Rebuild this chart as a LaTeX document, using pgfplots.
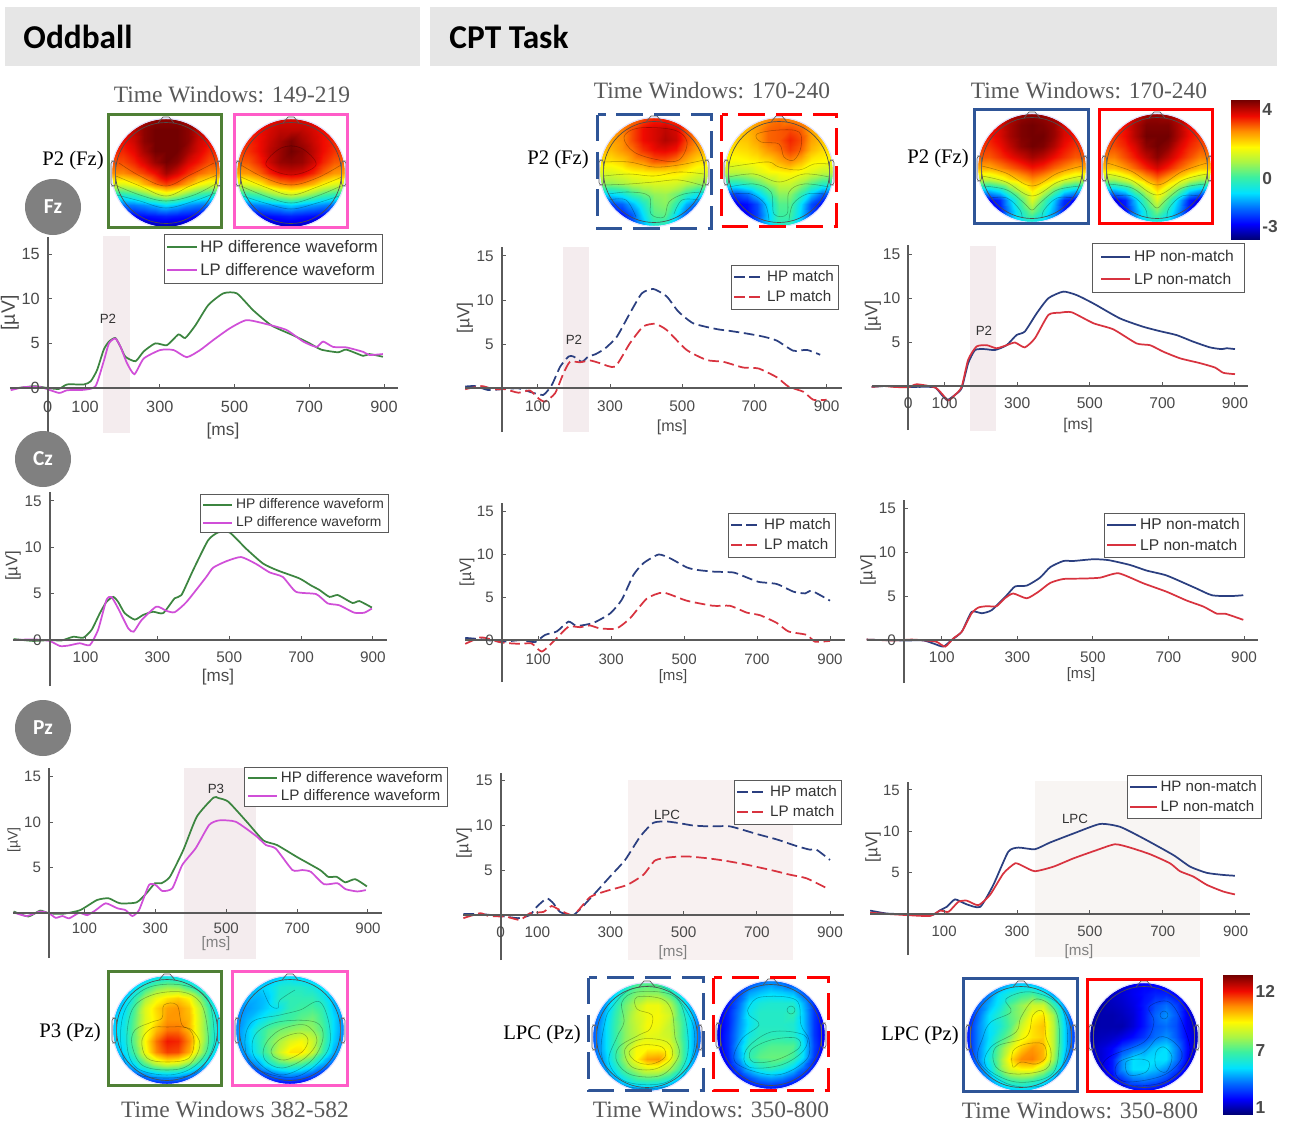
\documentclass[border=0pt]{standalone}
\usepackage{fontspec}
\usepackage{pgfplots}
\pgfplotsset{compat=1.18}
\setmainfont{Liberation Sans}
\newfontfamily\serif{Liberation Serif}
\newfontfamily\carl{Carlito}
\newcommand\fs[1]{\fontsize{#1}{#1}\selectfont}
\definecolor{hdr}{HTML}{E6E6E6}
\definecolor{tickc}{HTML}{4A4A4A}
\definecolor{axc}{HTML}{5A5A5A}
\definecolor{shd}{HTML}{F4ECEE}
\definecolor{shdc}{HTML}{F8F1F1}
\definecolor{shdb}{HTML}{F8F5F3}
\definecolor{cgr}{HTML}{3C8540}
\definecolor{cmg}{HTML}{D04FD8}
\definecolor{cbl}{HTML}{2B3F80}
\definecolor{crd}{HTML}{D8333F}
\definecolor{fgr}{HTML}{4F8035}
\definecolor{fpk}{HTML}{FF5CC8}
\definecolor{fbl}{HTML}{2F5597}
\definecolor{frd}{HTML}{FF0000}
\def\lgxs{1.5}
\def\tf{12.2}
\pgfplotsset{
 colormap={topo}{rgb255(0)=(0,0,120) rgb255(1)=(0,0,255) rgb255(2)=(0,110,255) rgb255(3)=(0,225,255)
  rgb255(4)=(60,240,160) rgb255(5)=(170,245,70) rgb255(6)=(255,250,0) rgb255(7)=(255,140,0) rgb255(8)=(240,10,0) rgb255(9)=(115,0,0)},
 panel/.style={
  scale only axis, width=\pW pt, height=\pH pt, at={(\pX pt,\pY pt)}, anchor=south west,
  xmin=\xmn, xmax=\xmx, ymin=\ymn, ymax=\ymx, clip=false,
  axis x line=center, axis y line=center,
  axis line style={-, color=axc, line width=1.5pt},
  tick style={color=axc, line width=.75pt}, tick align=inside, major tick length=3pt,
  hide obscured x ticks=false, hide obscured y ticks=false,
  /pgf/number format/assume math mode=true,
  every tick label/.append style={font=\fs{\tf}, text=tickc},
  xticklabel style={yshift=-3.5pt}, yticklabel style={xshift=-2.5pt},
  axis on top=true,
  legend style={at={(\lgx,\lgy)}, anchor=north east, draw=axc, line width=.75pt, font=\fs{\lgf}, text=black!80,
    inner xsep=\lgxs pt, inner ysep=\lgs pt, row sep=\lgr pt, cells={anchor=west}, fill=white},
  legend cell align=left,
  legend image code/.code={\draw[##1,line width=1.5pt](0pt,0pt)--(\lgl pt,0pt);},
 },
 hp/.style={color=cbl, line width=1.3pt, smooth, tension=.35, no marks},
 lp/.style={color=crd, line width=1.3pt, smooth, tension=.35, no marks},
 hg/.style={color=cgr, line width=1.3pt, smooth, tension=.35, no marks},
 lg/.style={color=cmg, line width=1.3pt, smooth, tension=.35, no marks},
 dsh/.style={dash pattern=on 8pt off 3.5pt},
 shade/.style={fill=#1, draw=none, forget plot, no marks},
}
% x0 px, px per ms, y0 px, px per uV, left, right, top, bottom
\newcommand\setpanel[8]{%
 \pgfmathsetmacro\pL{#5}\pgfmathsetmacro\pR{#6}\pgfmathsetmacro\pT{#7}\pgfmathsetmacro\pB{#8}%
 \pgfmathsetmacro\xmn{(#5-#1)/#2}\pgfmathsetmacro\xmx{(#6-#1)/#2}%
 \pgfmathsetmacro\ymn{(#3-#8)/#4}\pgfmathsetmacro\ymx{(#3-#7)/#4}%
 \pgfmathsetmacro\pW{(#6-#5)*.75}\pgfmathsetmacro\pH{(#8-#7)*.75}%
 \pgfmathsetmacro\pX{#5*.75}\pgfmathsetmacro\pY{-#8*.75}%
}
% legend right px, top px, font pt, ysep, rowsep, line length pt
\newcommand\setlegend[6]{%
 \pgfmathsetmacro\lgx{(#1-\pL)/(\pR-\pL)}\pgfmathsetmacro\lgy{(\pB-#2)/(\pB-\pT)}%
 \def\lgf{#3}\def\lgs{#4}\def\lgr{#5}\def\lgl{#6}%
}
\newcount\tpn
% cx, cy, values row by row from the top (11 x 11), scale 0-9 of the colour bar, contour lines
\newcommand\topomap[4]{%
 \gdef\tcoords{}\global\tpn=0
 \foreach \v in {#3}{%
  \pgfmathtruncatemacro\ci{mod(\tpn,11)}\pgfmathtruncatemacro\cj{10-floor(\tpn/11)}%
  \xdef\tcoords{\tcoords (\ci,\cj)[\v]}\global\advance\tpn by 1
 }%
 \pgfmathsetmacro\tX{(#1-54)*.75}\pgfmathsetmacro\tY{-(#2+54)*.75}%
 \begin{axis}[scale only axis, width=81pt, height=81pt, at={(\tX pt,\tY pt)}, anchor=south west,
   xmin=0,xmax=10,ymin=0,ymax=10, hide axis, colormap name=topo, point meta min=0, point meta max=9]
  \edef\tmp{\noexpand\addplot[surf,shader=interp,mesh/cols=11,point meta=explicit] coordinates {\tcoords};}\tmp
 \end{axis}
 \begin{scope}[x=.75pt,y=-.75pt]
  \begin{scope}[shift={(#1,#2)},draw=black,draw opacity=.3,line width=.4pt]
   #4
  \end{scope}
  \fill[white,even odd rule] (#1-55,#2-55) rectangle (#1+55,#2+55) (#1,#2) circle (54);
  \draw[blue!12,line width=.7pt] (#1,#2) circle (54.5);
  \draw[black!70,line width=.5pt] (#1,#2) circle (50.5);
  \draw[black!65,line width=.5pt] (#1-8,#2-50) -- (#1-3,#2-56) -- (#1+3,#2-56) -- (#1+8,#2-50);
  \draw[black!60,line width=.5pt,rounded corners=2pt] (#1-50.5,#2-12) rectangle (#1-55,#2+13);
  \draw[black!60,line width=.5pt,rounded corners=2pt] (#1+50.5,#2-12) rectangle (#1+55,#2+13);
 \end{scope}
}
\newcommand\co[1]{\draw plot[smooth,tension=.6] coordinates {#1};}
\newcommand\cc[1]{\draw plot[smooth cycle,tension=.6] coordinates {#1};}
\begin{document}
\begin{tikzpicture}
\begin{scope}[x=.75pt,y=-.75pt]
 \useasboundingbox (0,0) rectangle (1290,1122);
 \fill[white] (0,0) rectangle (1290,1122);
 \fill[hdr] (5,7) rectangle (420,66);
 \fill[hdr] (430,7) rectangle (1277,66);
 \node[font=\carl\bfseries\fs{25}] at (78,37) {Oddball};
 \node[font=\carl\bfseries\fs{25}] at (509,37) {CPT Task};
 \foreach \x/\y/\t in {232/95/Time Windows: 149-219, 712/91/Time Windows: 170-240, 1089/91/Time Windows: 170-240,
   235/1110/Time Windows 382-582, 711/1110/Time Windows: 350-800, 1080/1111/Time Windows: 350-800}
  \node[font=\serif\fs{17.6},text=black!65] at (\x,\y) {\t};
 \foreach \x/\y/\t in {73/161/P2 (Fz), 558/160/P2 (Fz), 938/159/P2 (Fz), 70/1033/P3 (Pz), 542/1035/LPC (Pz), 920/1036/LPC (Pz)}
  \node[font=\serif\fs{15.5}] at (\x,\y) {\t};
\end{scope}

% ---------- topographic maps
\topomap{166}{173}{
8.5,8.5,8.5,8.6,8.8,8.8,8.8,8.6,8.5,8.5,8.5,
8.2,8.2,8.4,8.8,9,9,9,8.8,8.4,8.2,8.2,
8,8,8.3,8.8,9,9,9,8.8,8.3,8,8,
7.8,7.8,8.1,8.6,9,9,9,8.6,8.2,7.8,7.8,
7.5,7.5,7.8,8.2,8.7,9,8.8,8.2,7.9,7.5,7.5,
7,7,7.3,7.6,8,8.6,8.2,7.7,7.3,7,7,
5.6,5.6,6,6.6,7.2,7.6,7.3,6.7,6,5.6,5.6,
3.5,3.5,3.8,4.3,5,5.5,5,4.3,3.8,3.5,3.5,
2,2,2.1,2.3,2.6,3,2.7,2.3,2.1,2,2,
1,1,1,1.1,1.2,1.3,1.2,1.1,1,1,1,
.3,.3,.3,.3,.4,.4,.4,.3,.3,.3,.3}{
\co{(-47,-10)(-26,3)(0,13)(24,2)(48,-10)}
\co{(-50,3)(-26,13)(0,23)(24,13)(51,2)}
\co{(-51,12)(-26,22)(0,28)(28,22)(51,10)}
\co{(-49,22)(-26,28)(0,35)(28,28)(49,20)}}
\topomap{291}{173}{
8,8,8,8.1,8.2,8.2,8.2,8.1,8,8,8,
7.9,7.9,8,8.2,8.4,8.4,8.4,8.2,8,7.9,7.9,
7.8,7.8,8,8.3,8.6,8.9,8.6,8.3,8,7.8,7.8,
7.6,7.7,8,8.4,8.7,9,8.8,8.4,8,7.7,7.6,
7.3,7.4,7.8,8.3,8.7,8.8,8.7,8.3,7.8,7.4,7.3,
6.8,6.9,7.3,7.8,8.2,8.3,8.2,7.8,7.3,6.9,6.8,
5.4,5.6,6,6.6,7,7.2,7,6.6,6,5.6,5.4,
3.5,3.7,4,4.5,5,5.3,5,4.5,4,3.7,3.5,
2,2,2.2,2.4,2.6,2.9,2.6,2.4,2.2,2,2,
1,1,1,1.1,1.2,1.3,1.2,1.1,1,1,1,
.4,.4,.4,.4,.5,.5,.5,.4,.4,.4,.4}{
\co{(-50,-8)(-26,5)(0,12)(26,5)(50,-8)}
\co{(-50,4)(-26,14)(0,22)(26,14)(51,4)}
\co{(-50,13)(-26,23)(0,30)(26,23)(50,13)}
\co{(-48,23)(-26,30)(0,36)(26,30)(48,23)}
\cc{(-25,-8)(0,2)(25,-8)(10,-25)(-10,-25)}}
\topomap{654}{172}{
7,7,7,7.2,7.5,7.8,7.8,7.5,7.2,7,7,
6.9,6.9,7.1,7.5,8,8.2,8.4,8.2,7.5,7,6.9,
6.8,6.8,7,7.5,8,8.2,8.5,8.3,7.6,7,6.8,
6.6,6.6,6.9,7.2,7.7,8,8.1,7.9,7.3,6.8,6.6,
6.2,6.2,6.4,6.8,7,7.4,7.4,7.1,6.7,6.3,6.2,
5.6,5.6,5.8,6,6.1,6.2,6.2,6.2,6,5.7,5.6,
4.8,4.8,5,5.3,5.5,5.6,5.6,5.5,5.2,4.9,4.8,
3,3,3.3,3.9,4.4,4.8,4.9,4.5,3.8,3.2,3,
1.6,1.6,1.9,2.6,3.5,4.5,4.7,3.8,2.6,1.9,1.6,
1,1,1.2,1.8,3,4.2,4.3,3,1.8,1.2,1,
.8,.8,1,1.5,2.5,3.5,3.5,2.5,1.5,1,.8}{
\cc{(-30,-35)(-20,-20)(5,-12)(25,-12)(33,-30)(20,-42)(-15,-44)}
\co{(-50,-10)(-25,-10)(0,-5)(25,-7)(50,-12)}
\co{(-50,4)(-25,2)(0,4)(25,0)(50,2)}
\co{(-50,13)(-25,12)(0,10)(25,8)(50,14)}
\co{(-45,22)(-25,20)(-5,24)(-3,42)(10,45)(15,30)(30,22)(50,20)}
\co{(-45,28)(-28,28)(-18,45)}
\co{(45,28)(28,28)(20,42)}}
\topomap{779}{172}{
6.6,6.6,6.7,6.8,7,7.2,7,6.9,6.7,6.6,6.6,
6.5,6.5,6.6,6.9,7.3,7.4,7.5,7.3,6.8,6.5,6.5,
6.4,6.4,6.5,6.8,7.3,7.4,7.8,7.5,6.8,6.5,6.4,
6.2,6.2,6.3,6.5,6.9,7.2,7.6,7.3,6.6,6.3,6.2,
5.9,5.9,6,6.1,6.3,6.7,7,6.6,6.1,6,5.9,
5.2,5.2,5.3,5.6,5.9,6,6.1,5.9,5.6,5.3,5.2,
3.6,3.6,3.9,4.3,4.9,5.4,5.4,4.9,4.3,3.8,3.6,
1.6,1.6,2,2.8,3.8,4.7,4.7,3.8,2.8,1.9,1.6,
.9,.9,1.1,1.7,3,4.2,4.2,3,1.7,1.1,.9,
.9,.9,1,1.6,2.8,4,4,2.8,1.6,1,.9,
1.2,1.2,1.4,1.9,2.8,3.6,3.6,2.8,1.9,1.4,1.2}{
\cc{(-22,-38)(-18,-30)(0,-28)(5,-15)(15,-12)(22,-25)(20,-40)(0,-42)}
\co{(-50,-5)(-30,-8)(-10,-10)(0,-5)(20,-2)(35,-8)(50,-8)}
\co{(-50,5)(-25,2)(0,10)(25,2)(50,5)}
\co{(-50,15)(-25,12)(-8,20)(-5,42)(8,42)(10,20)(25,12)(50,15)}
\co{(-45,22)(-28,22)(-14,32)(-10,48)}
\co{(45,22)(28,22)(14,32)(10,48)}}
\topomap{1032}{168}{
8.2,8.2,8.3,8.5,8.7,8.8,8.7,8.5,8.3,8.2,8.2,
8,8,8.2,8.6,8.9,9,8.9,8.7,8.2,8,8,
7.9,7.9,8.2,8.6,8.9,9,9,8.7,8.2,7.9,7.9,
7.7,7.7,8,8.4,8.8,9,8.9,8.5,8,7.7,7.7,
7.4,7.4,7.7,8,8.3,8.6,8.4,8,7.7,7.4,7.4,
6.7,6.7,7,7.3,7.6,7.9,7.7,7.3,7,6.7,6.7,
5.3,5.3,5.7,6.2,6.6,7,6.7,6.2,5.7,5.3,5.3,
2.8,2.8,3.3,4.4,5.4,6.2,5.5,4.4,3.3,2.8,2.8,
1,1,1.4,2.8,4.2,5.6,4.2,2.8,1.4,1,1,
.8,.8,1.2,2.4,3.6,4.6,3.6,2.4,1.2,.8,.8,
1.5,1.5,1.8,2.4,3,3.3,3,2.4,1.8,1.5,1.5}{
\co{(-50,-2)(-26,5)(0,18)(26,5)(50,-2)}
\co{(-50,8)(-26,14)(0,28)(26,14)(50,8)}
\co{(-49,18)(-25,22)(-8,35)(0,42)(8,35)(25,22)(49,18)}
\co{(-42,30)(-25,30)(-12,42)(-10,50)}
\co{(42,30)(25,30)(12,42)(10,50)}}
\topomap{1157}{168}{
8,8,8.1,8.3,8.6,8.7,8.6,8.3,8.1,8,8,
7.8,7.8,8,8.5,8.9,8.9,8.9,8.5,8,7.8,7.8,
7.7,7.7,8,8.5,9,9,9,8.5,8,7.7,7.7,
7.5,7.5,7.8,8.2,8.8,9,8.8,8.2,7.8,7.5,7.5,
7.1,7.1,7.5,7.9,8.4,8.8,8.4,7.9,7.5,7.1,7.1,
6.5,6.5,6.9,7.3,7.8,8.2,7.8,7.3,6.9,6.5,6.5,
5,5,5.5,6.1,6.7,7.2,6.7,6.1,5.5,5,5,
2.6,2.6,3.1,4.3,5.4,6.3,5.4,4.3,3.1,2.6,2.6,
.8,.8,1.3,2.7,4.2,5.6,4.2,2.7,1.3,.8,.8,
.7,.7,1.1,2.3,3.5,4.5,3.5,2.3,1.1,.7,.7,
1.5,1.5,1.8,2.4,3,3.3,3,2.4,1.8,1.5,1.5}{
\co{(-50,-5)(-26,3)(0,17)(26,3)(50,-5)}
\co{(-50,6)(-26,12)(0,27)(26,12)(50,6)}
\co{(-49,16)(-25,20)(-8,33)(0,40)(8,33)(25,20)(49,16)}
\co{(-42,28)(-25,28)(-12,40)(-10,50)}
\co{(42,28)(25,28)(12,40)(10,50)}}
\topomap{167}{1030}{
2,2,2,2.5,3,3.2,3,2.5,2,2,2,
2,2.5,3,3.8,4.5,4.8,4.7,4,3.2,2.5,2,
2,2.8,3.8,5,5.8,6.2,6.4,6,4.8,3.2,2.4,
2.5,3,4.2,5.6,6.3,6.8,6.9,6.5,5.4,3.8,2.5,
2.8,3.2,4.4,5.6,6.2,6.9,6.9,6.6,5.5,4,2.8,
2.8,3.3,4.5,5.8,6.6,7.2,7.2,6.6,5.5,4,2.8,
2.8,3.2,4.5,6,7.2,7.9,7.8,7,5.6,3.9,2.8,
2.5,3,4.2,5.8,7,7.6,7.5,6.7,5.2,3.6,2.5,
2,2.4,3.3,4.5,5.5,6,5.8,5,3.9,2.7,2,
1,1.5,2,2.5,3,3.2,3.1,2.6,2,1.5,1,
.4,.6,.8,1,1.1,1.2,1.1,1,.8,.6,.4}{
\cc{(-25,10)(-15,-2)(0,-3)(20,-2)(27,10)(22,28)(0,32)(-20,28)}
\cc{(-32,0)(-15,-8)(-5,-12)(-3,-25)(10,-25)(15,-5)(25,0)(33,15)(22,35)(0,40)(-25,35)(-35,15)}
\cc{(-35,-20)(-15,-35)(15,-38)(33,-28)(40,-5)(40,20)(25,38)(0,45)(-30,38)(-40,15)}
\cc{(-42,-20)(-20,-42)(15,-45)(40,-32)(47,0)(45,20)(30,42)(0,48)(-35,42)(-46,15)}}
\topomap{290}{1030}{
2,2,2.2,2.5,2.8,3,2.8,2.5,2.2,2,2,
2,2.4,2.8,3,3.5,3.6,3.6,3.4,3,2.4,2,
2,2.6,2.6,2.8,3.6,3.8,3.8,3.8,3.4,2.6,2,
2.2,2.4,2.6,2.9,3.2,3.8,4,4.1,3.8,2.8,2.2,
2.2,2.6,3,3.4,3.8,4,4.3,4.5,4,3,2.2,
2.2,2.8,3.6,4.2,4.5,4.7,4.9,4.8,4.2,3,2.2,
2.2,2.8,3.6,4.4,5,5.6,5.9,5.4,4.3,2.9,2.2,
2,2.6,3.5,4.3,5.4,6.2,6.2,5.4,4,2.6,2,
1.4,2,2.6,3.5,4.3,4.6,4.4,3.8,2.8,2,1.4,
.8,1.2,1.6,2,2.4,2.6,2.4,2,1.5,1.2,.8,
.3,.5,.7,.8,.9,1,.9,.8,.7,.5,.3}{
\cc{(-18,18)(-8,8)(10,3)(18,10)(12,22)(-5,30)(-17,26)}
\cc{(-25,15)(-10,0)(15,-5)(27,10)(15,28)(-8,38)(-25,30)}
\cc{(-35,5)(-12,-8)(25,-8)(33,8)(20,32)(-10,45)(-35,28)}
\cc{(-38,-8)(-10,-15)(10,-20)(30,-28)(40,0)(35,25)(5,47)(-35,38)(-45,15)}
\co{(-27,-40)(-20,-25)(-12,-22)(-10,-30)(5,-40)}}
\topomap{647}{1037}{
1.6,1.6,2,3,4,4.2,4,3,2,1.6,1.6,
1.6,2,3,4,4.6,4.8,4.8,4.2,3.2,2,1.6,
1.6,2.4,3.6,4.5,5.2,5.8,5.8,5.2,4,2.6,1.6,
1.8,2.6,3.8,4.6,5.4,5.8,5.9,5.5,4.2,3,1.8,
1.8,2.8,3.9,4.7,5.3,5.9,5.8,5.3,4.4,3,1.8,
1.8,2.8,3.9,4.7,5.2,5.7,5.6,5.4,4.4,3,1.8,
1.8,2.8,3.9,4.9,5.9,6,6,5.8,4.6,3,1.8,
1.8,2.6,3.8,4.9,6,6.8,6.9,6,4.6,2.9,1.8,
1.5,2.3,3.3,4.3,5,5.6,5.6,5,4,2.6,1.5,
1.2,1.7,2.4,3.2,3.8,4,3.9,3.4,2.6,1.7,1.2,
.8,1,1.4,1.8,2,2.2,2,1.8,1.4,1,.8}{
\cc{(-18,15)(-5,8)(15,10)(18,20)(5,27)(-10,25)}
\cc{(-22,12)(-5,2)(20,5)(25,20)(8,32)(-15,30)}
\cc{(-28,10)(-8,-2)(3,-8)(5,-22)(-10,-28)(-10,-40)(15,-38)(25,-25)(28,0)(32,18)(15,38)(-15,38)(-30,25)}
\cc{(-25,-35)(-10,-45)(25,-42)(38,-20)(40,20)(20,45)(-20,45)(-38,25)(-30,0)(-23,-15)}
\cc{(-35,-30)(-15,-48)(20,-48)(45,-15)(45,20)(25,48)(-25,48)(-45,20)(-42,-15)}}
\topomap{771}{1035}{
.6,.7,1,1.4,1.9,2.2,1.9,1.4,1,.7,.6,
.7,1,1.6,2.4,2.7,2.9,2.8,2.6,1.8,1,.7,
.8,1.2,2,3,3.4,3.5,3.5,3.5,2.6,1.4,.8,
.8,1.3,2.2,3.2,3.6,3.6,3.6,3.8,2.8,1.5,.8,
.8,1.3,2.3,3.1,3.6,3.6,3.6,3.5,2.8,1.5,.8,
.8,1.4,2.4,3.3,3.7,3.7,3.7,3.6,2.9,1.5,.8,
.8,1.4,2.6,3.7,4,4.2,4.2,4.2,3.1,1.6,.8,
.7,1.3,2.5,3.8,4.3,4.4,4.4,4,3,1.5,.7,
.6,1,1.9,2.9,3.6,3.9,3.6,3,2.1,1.2,.6,
.4,.7,1.1,1.7,2.2,2.4,2.2,1.7,1.2,.8,.4,
.2,.3,.5,.8,1,1.1,1,.8,.5,.3,.2}{
\draw (20,-25) circle (4);
\cc{(-20,15)(0,5)(25,3)(28,13)(5,25)(-18,27)}
\cc{(-25,15)(0,-3)(33,0)(33,15)(10,30)(-22,32)}
\cc{(-22,-28)(-10,-38)(25,-35)(30,-10)(38,5)(35,25)(5,40)(-35,28)(-30,5)(-12,-10)(-22,-20)}}
\topomap{1021}{1037}{
1.2,1.2,1.5,2,2.6,2.8,2.6,2,1.5,1.2,1.2,
1.2,1.6,2.2,3,3.5,3.9,4.1,3.5,2.4,1.6,1.2,
1.2,1.9,2.6,3.2,4.2,4.8,5.4,5.4,4,2.3,1.2,
1.2,2,3,3.6,4.3,4.8,5.9,6.2,5,2.8,1.2,
1.2,2.2,3,3.4,4.2,5.4,6.2,6.5,5.2,3,1.4,
1.2,2.2,3,3.8,4.6,5.8,6.2,6.4,5.2,3,1.4,
1.2,2.2,3.2,4.4,5.6,6.4,6.9,6.6,5.2,3,1.4,
1.2,2.2,3.4,4.6,6.2,7,7.1,6.6,5,2.7,1.2,
1.1,1.9,3,4.4,5.6,6,6,5.2,4,2.2,1.1,
1,1.4,2.3,3.2,4,4.2,4,3.4,2.4,1.6,1,
.8,1,1.6,2.2,2.6,2.8,2.6,2.2,1.6,1,.8}{
\cc{(-8,14)(5,7)(22,7)(25,20)(15,27)(0,25)(-8,30)}
\cc{(12,-22)(22,-25)(25,0)(30,15)(25,32)(-5,37)(-25,30)(-25,10)(5,0)}
\cc{(-30,10)(-5,-5)(0,-20)(15,-38)(35,-25)(38,10)(30,38)(-5,45)(-35,30)}
\cc{(-30,-15)(-10,-25)(-15,-38)(10,-45)(40,-30)(46,10)(30,45)(-10,48)(-42,25)(-38,0)}}
\topomap{1144}{1037}{
.5,.5,.6,.7,.9,1,1,.9,.7,.6,.5,
.5,.5,.6,.7,.9,1.1,1.3,1.3,1,.7,.5,
.4,.4,.5,.6,.8,1.2,1.7,2,1.6,.8,.5,
.3,.4,.4,.5,.7,1.2,1.9,2.3,1.8,.9,.5,
.3,.4,.4,.4,.7,1.2,1.8,2,1.7,.9,.5,
.4,.5,.6,.8,1.1,1.5,2,2.3,1.8,1,.5,
.5,.7,1,1.6,2,2.3,2.8,3,2.2,1.1,.5,
.5,.7,1.2,2.3,3,2.9,3,3,2.1,1,.5,
.5,.7,1.2,2.3,3,3,2.7,2.3,1.6,.9,.5,
.4,.6,.9,1.4,2,2.1,1.9,1.5,1,.7,.4,
.3,.4,.5,.7,.9,1,.9,.7,.5,.4,.3}{
\draw (20,-22) circle (4);
\cc{(-18,25)(-5,22)(5,25)(2,35)(-15,38)}
\cc{(12,15)(20,10)(28,20)(22,35)(12,30)}
\cc{(-25,25)(0,15)(15,0)(30,5)(38,20)(20,38)(-15,45)(-28,38)}
\cc{(-35,20)(0,5)(10,-15)(5,-30)(25,-35)(40,-10)(45,20)(20,45)(-25,48)(-42,35)}}

\begin{scope}[x=.75pt,y=-.75pt,line width=2.5pt]
 \draw[fgr] (108.5,114.5) rectangle (221.5,227.5);
 \draw[fpk] (234.5,114.5) rectangle (347.5,227.5);
 \draw[fgr] (108.5,971.5) rectangle (221.5,1085.5);
 \draw[fpk] (232.5,971.5) rectangle (347.5,1085.5);
 \draw[fbl,dash pattern=on 20pt off 8pt] (597.5,114.5) rectangle (711.5,228.5);
 \draw[frd,dash pattern=on 20pt off 8pt] (721.5,114.5) rectangle (836.5,226.5);
 \draw[fbl] (974.5,109.5) rectangle (1088.5,223.5);
 \draw[frd] (1099.5,109.5) rectangle (1212.5,223.5);
 \draw[fbl,dash pattern=on 20pt off 8pt] (588.5,977.5) rectangle (703.5,1090.5);
 \draw[frd,dash pattern=on 20pt off 8pt] (713.5,977.5) rectangle (828.5,1090.5);
 \draw[fbl] (963.5,978.5) rectangle (1077.5,1091.5);
 \draw[frd] (1087.5,979.5) rectangle (1201.5,1091.5);
\end{scope}

% ---------- colour bars
\begin{axis}[scale only axis, width=21pt, height=104pt, at={(923.25pt,-179.25pt)}, anchor=south west,
  xmin=0,xmax=1,ymin=0,ymax=9, colormap name=topo, point meta min=0, point meta max=9,
  xtick=\empty, ytick={.78,3.9,8.4}, yticklabels={-3,0,4}, ytick pos=right, yticklabel pos=right,
  tick style={draw=none}, axis line style={color=black!60},
  every tick label/.append style={font=\bfseries\fs{13}, text=tickc}, yticklabel style={xshift=-1pt}]
 \addplot[surf,shader=interp,mesh/cols=2,point meta=explicit] coordinates {
  (0,0)[0] (1,0)[0] (0,1)[1] (1,1)[1] (0,2)[2] (1,2)[2] (0,3)[3] (1,3)[3] (0,4)[4] (1,4)[4]
  (0,5)[5] (1,5)[5] (0,6)[6] (1,6)[6] (0,7)[7] (1,7)[7] (0,8)[8] (1,8)[8] (0,9)[9] (1,9)[9]};
\end{axis}
\begin{axis}[scale only axis, width=22pt, height=104pt, at={(917.25pt,-835.5pt)}, anchor=south west,
  xmin=0,xmax=1,ymin=0,ymax=9, colormap name=topo, point meta min=0, point meta max=9,
  xtick=\empty, ytick={.45,4.14,7.96}, yticklabels={1,7,12}, ytick pos=right, yticklabel pos=right,
  tick style={draw=none}, axis line style={color=black!60},
  every tick label/.append style={font=\bfseries\fs{13}, text=tickc}, yticklabel style={xshift=-1pt}]
 \addplot[surf,shader=interp,mesh/cols=2,point meta=explicit] coordinates {
  (0,0)[0] (1,0)[0] (0,1)[1] (1,1)[1] (0,2)[2] (1,2)[2] (0,3)[3] (1,3)[3] (0,4)[4] (1,4)[4]
  (0,5)[5] (1,5)[5] (0,6)[6] (1,6)[6] (0,7)[7] (1,7)[7] (0,8)[8] (1,8)[8] (0,9)[9] (1,9)[9]};
\end{axis}

% ---------- A: Oddball Fz
\def\tf{12.2}
\setpanel{47.7}{.3737}{388}{8.93}{10}{398}{237}{447}
\setlegend{383}{234}{12.5}{2.4}{2.6}{22}
\begin{axis}[panel, xtick={0,100,300,500,700,900}, ytick={0,5,10,15}, xticklabel style={yshift=-3pt}]
 \addplot[shade=shd] coordinates {(149,-5) (149,17) (221,17) (221,-5)} --cycle;
 \addplot[hg] coordinates {(-99,-.1)(-36,.2)(0,0)(30,-.1)(52,.4)(97,.4)(115,.75)(132,2)(150,4.3)(164,5.2)(181,5.6)(195,4.6)(208,3.5)(235,3)(257,4.1)(288,5)(319,4.8)(350,6)(368,5.6)(395,7)(430,9.3)(470,10.6)(506,10.6)(550,8.7)(599,7)(657,5.9)(701,5)(732,4.3)(777,4)(799,4.3)(844,3.6)(861,3.8)(897,3.5)};
 \addplot[lg] coordinates {(-99,-.25)(-63,.1)(-19,.1)(30,-.55)(52,-.25)(97,-.2)(128,.2)(150,3)(164,5)(181,5.55)(195,4.6)(212,2.8)(232,1.55)(257,3.3)(301,4.25)(337,4.25)(372,3.45)(408,4.25)(444,5.4)(488,6.7)(532,7.6)(586,7.15)(639,6.5)(684,5.2)(719,4.6)(737,5.2)(764,4.6)(799,4.55)(844,4.05)(861,3.7)(897,3.8)};
 \legend{HP difference waveform,LP difference waveform}
\end{axis}
% ---------- D: Oddball Cz
\def\tf{11.5}
\setpanel{49.6}{.3593}{640}{9.27}{13}{387}{492}{686}
\setlegend{389}{494}{10.4}{1.2}{.3}{22}
\begin{axis}[panel, xtick={100,300,500,700,900}, ytick={0,5,10,15}, xticklabel style={yshift=-1.5pt}]
 \addplot[hg] coordinates {(-100,.1)(-45,-.1)(0,0)(33,-.05)(66,.35)(94,.25)(117,1.1)(140,2.9)(158,4.1)(177,4.65)(191,4.1)(209,2.9)(237,2.2)(260,2.7)(288,3.05)(316,2.9)(348,4.5)(367,4.85)(399,7.5)(441,10.75)(469,11.6)(501,11.6)(547,9.85)(594,8.25)(635,7.5)(695,6.65)(727,5.9)(751,5.4)(779,4.65)(802,4.85)(843,4)(862,4.2)(897,3.5)};
 \addplot[lg] coordinates {(-100,0)(-64,.05)(-36,.05)(0,-.1)(29,-.65)(52,-.6)(84,-.35)(112,-.55)(135,1.1)(158,4.3)(172,4.65)(191,3.4)(219,1.25)(234,.9)(256,2.15)(297,3.6)(325,3.15)(348,3)(381,4.1)(436,6.8)(455,7.8)(492,8.5)(533,8.95)(575,8.2)(612,7.3)(649,6.8)(686,5.2)(742,4.95)(774,3.95)(806,3.75)(848,2.95)(876,2.95)(897,3.4)};
 \legend{HP difference waveform,LP difference waveform}
\end{axis}
% ---------- G: Oddball Pz
\def\tf{11.3}
\setpanel{49}{.3544}{913.3}{9.11}{13}{382}{768}{958}
\setlegend{448}{767}{11.4}{1}{-.3}{22}
\begin{axis}[panel, xtick={100,300,500,700,900}, ytick={5,10,15}]
 \addplot[shade=shd] coordinates {(381,-5) (381,16) (584,16) (584,-5)} --cycle;
 \addplot[hg] coordinates {(-100,.2)(-58,-.35)(-25,.3)(0,0)(40,-.05)(88,.35)(135,1.45)(168,1.65)(200,1.1)(247,1.2)(275,2.2)(299,3.3)(317,3.3)(341,4)(379,6.95)(417,10.6)(464,12.7)(478,12.65)(506,12.25)(558,10.05)(605,8)(643,7.5)(699,6.2)(765,4.75)(788,4)(812,4)(836,3.4)(864,3.75)(897,2.95)};
 \addplot[lg] coordinates {(-100,.1)(-63,-.3)(-25,.2)(0,0)(19,-.5)(38,-.3)(57,-.55)(85,.05)(108,-.2)(132,.35)(160,1.1)(193,.55)(216,.35)(235,-.3)(254,.35)(282,3.1)(301,3.1)(320,2.45)(348,2.75)(376,5.3)(414,7.15)(452,9.7)(480,10.2)(527,10.05)(584,8.5)(612,7.5)(640,7.1)(687,4.75)(715,4.75)(739,4.55)(776,3.2)(814,3.3)(837,2.65)(870,2.4)(894,2.55)};
 \legend{HP difference waveform,LP difference waveform}
\end{axis}
% ---------- B: CPT match Fz
\def\tf{11.5}
\setpanel{501.7}{.3611}{388.3}{8.83}{465}{842}{247}{432}
\setlegend{839}{265}{11.4}{1.8}{1.5}{22}
\begin{axis}[panel, xtick={100,300,500,700,900}, ytick={5,10,15}, xticklabel style={yshift=-2.4pt}]
 \addplot[shade=shd] coordinates {(170,-5) (170,16) (242,16) (242,-5)} --cycle;
 \addplot[hp,dsh] coordinates {(-101,.2)(-74,.25)(-37,-.2)(0,-.1)(46,0)(78,-.4)(115,-.75)(139,.4)(162,2.45)(185,3.6)(199,3.6)(222,3)(240,3.6)(259,3.85)(286,4.5)(319,5.85)(355,8.5)(388,10.75)(420,11.25)(457,10.4)(489,8.7)(531,7.35)(596,6.7)(632,6.5)(679,6.2)(725,5.85)(762,5.4)(808,4.25)(845,4.35)(882,3.8)};
 \addplot[lp,dsh] coordinates {(-101,-.1)(-55,.25)(-23,-.1)(9,-.1)(46,-.5)(78,-.25)(102,-1.15)(120,-1.5)(148,-.55)(171,1.7)(189,3)(217,2.95)(245,3.15)(272,2.85)(314,2.45)(355,5.1)(392,7)(425,7.3)(457,6.6)(512,4.35)(568,3.2)(614,3)(669,2.35)(711,2.25)(762,1.25)(794,.2)(836,-.4)(863,-1.3)(900,-1.3)};
 \legend{HP match,LP match}
\end{axis}
% ---------- E: CPT match Cz
\def\tf{11.3}
\setpanel{501.7}{.3648}{640}{8.55}{465}{845}{503}{682}
\setlegend{836}{513}{11.4}{1.8}{1.5}{22}
\begin{axis}[panel, xtick={100,300,500,700,900}, ytick={0,5,10,15}, xticklabel style={yshift=-3.2pt}]
 \addplot[hp,dsh] coordinates {(-100,.25)(-59,.1)(0,-.2)(55,0)(91,-.25)(119,.6)(151,1)(183,2.15)(206,1.65)(251,2)(297,3.1)(329,4.7)(361,7.6)(389,9)(430,10)(462,9.55)(507,8.5)(535,8.2)(580,8)(635,7.9)(667,7.4)(704,6.8)(754,6.55)(800,5.65)(832,5.45)(850,5.75)(900,4.6)};
 \addplot[lp,dsh] coordinates {(-100,-.45)(-59,.3)(-32,.1)(0,-.3)(50,-.45)(82,-.4)(110,-1.35)(146,0)(183,1.55)(215,1.5)(242,1.7)(270,1.35)(315,1.35)(352,2.55)(398,4.85)(443,5.55)(507,4.6)(580,4)(626,4)(672,3.2)(708,2.9)(754,2)(786,1)(836,.6)(859,-.2)(900,-.1)};
 \legend{HP match,LP match}
\end{axis}
% ---------- H: CPT match Pz
\def\tf{11.5}
\setpanel{500.7}{.3659}{915}{8.95}{463}{844}{773}{960}
\setlegend{842}{780}{11.4}{1.8}{1.5}{22}
\begin{axis}[panel, xtick={0,100,300,500,700,900}, ytick={5,10,15}, xticklabel style={yshift=-2pt}]
 \addplot[shade=shdc] coordinates {(348,-5) (348,15.1) (799,15.1) (799,-5)} --cycle;
 \addplot[hp,dsh] coordinates {(-102,.1)(-56,.1)(0,-.1)(48,-.35)(80,0)(98,.9)(126,1.85)(144,1.3)(162,.35)(199,0)(248,2)(299,4.3)(340,6.15)(381,8.75)(417,10.3)(454,10.45)(490,10.25)(526,10)(572,9.9)(627,9.9)(700,9.05)(754,8.45)(809,7.7)(845,7.3)(863,7.3)(900,6.15)};
 \addplot[lp,dsh] coordinates {(-102,-.35)(-56,.2)(-34,-.1)(16,-.2)(53,-.55)(80,.2)(117,.35)(139,1)(162,.55)(199,0)(244,2)(290,2.7)(345,3.35)(390,4.5)(422,6.1)(463,6.45)(508,6.55)(563,6.35)(608,6.1)(663,5.7)(736,5.05)(791,4.5)(836,4.1)(891,3)};
 \legend{HP match,LP match}
\end{axis}
% ---------- C: CPT non-match Fz
\def\tf{11.7}
\setpanel{908.3}{.363}{386}{8.78}{872}{1248}{245}{430}
\setlegend{1245}{243}{11.7}{3}{3}{22}
\def\lgxs{6}
\begin{axis}[panel, xtick={0,100,300,500,700,900}, ytick={5,10,15}, xticklabel style={yshift=-1.5pt}]
 \addplot[shade=shd] coordinates {(170,-5.1) (170,16) (242,16) (242,-5.1)} --cycle;
 \addplot[hp] coordinates {(-101,-.1)(-60,0)(0,-.1)(32,-.1)(73,-.15)(92,-1)(107,-1.6)(129,-1)(147,-.25)(165,2.6)(184,4.1)(211,4.2)(239,4.1)(271,4.65)(298,5.8)(321,6.2)(354,8.3)(386,10)(427,10.75)(464,10.35)(510,9.4)(583,7.7)(647,6.75)(693,6.25)(739,5.8)(785,5.05)(831,4.4)(863,4.2)(877,4.3)(900,4.2)};
 \addplot[lp] coordinates {(-101,-.1)(-69,0)(-41,-.1)(0,-.15)(23,.2)(73,-.15)(92,-.85)(110,-1.65)(129,-1)(147,-.1)(165,3)(188,4.5)(216,4.65)(243,4.3)(271,4.65)(294,4.95)(321,4.4)(349,5.45)(386,8.1)(418,8.35)(450,8.4)(510,7.15)(565,6.45)(629,4.85)(666,4.65)(703,3.9)(749,3.15)(804,2.6)(845,2.1)(868,1.5)(900,1.35)};
 \legend{HP non-match,LP non-match}
\end{axis}
\def\lgxs{1.5}
% ---------- F: CPT non-match Cz
\def\tf{11.5}
\setpanel{904}{.3778}{640}{8.78}{867}{1258}{500}{683}
\setlegend{1245}{513}{11.7}{1.8}{1.2}{22}
\begin{axis}[panel, xtick={100,300,500,700,900}, ytick={0,5,10,15}, xticklabel style={yshift=-1.5pt}]
 \addplot[hp] coordinates {(-99,.05)(-64,0)(0,-.05)(51,-.05)(78,-.4)(104,-.75)(126,0)(153,.95)(179,3.2)(206,3.05)(232,3.4)(272,5.1)(294,6.1)(325,6.2)(360,7.1)(387,8.3)(422,9)(448,9)(501,9.2)(541,9.1)(598,8.55)(643,7.9)(695,7.35)(770,5.95)(815,5.1)(863,5)(898,5.1)};
 \addplot[lp] coordinates {(-99,.05)(-28,-.05)(20,.05)(56,-.05)(86,-.2)(109,-.75)(131,.2)(153,.95)(179,3.05)(197,3.7)(219,3.85)(245,3.85)(267,4.75)(289,5.3)(325,4.75)(356,5.5)(387,6.5)(422,6.95)(475,7)(519,7.1)(568,7.6)(634,6.45)(695,5.5)(748,4.5)(793,3.8)(828,3)(850,3)(898,2.3)};
 \legend{HP non-match,LP non-match}
\end{axis}
% ---------- I: CPT non-match Pz
\def\tf{11.2}
\setpanel{907.7}{.3644}{914.3}{8.29}{870}{1250}{782}{955}
\setlegend{1262}{775}{11.3}{1.8}{1.2}{20}
\begin{axis}[panel, xtick={100,300,500,700,900}, ytick={5,10,15}, xticklabel style={yshift=-1.5pt}]
 \addplot[shade=shdb] coordinates {(349,-5.15) (349,16.1) (802,16.1) (802,-5.15)} --cycle;
 \addplot[hp] coordinates {(-103,.45)(-58,.1)(0,0)(66,-.1)(89,.5)(107,.9)(130,1.8)(162,1.2)(199,.9)(235,3.55)(276,7.55)(304,8.05)(349,7.85)(390,8.65)(455,9.75)(528,10.9)(583,10.55)(647,9.15)(729,7.15)(775,5.75)(821,5)(866,4.75)(898,4.65)};
 \addplot[lp] coordinates {(-103,.2)(-58,.05)(0,-.1)(61,-.2)(89,.45)(112,.3)(139,1.5)(162,1.65)(194,1.1)(226,2.35)(263,4.95)(295,6.15)(317,5.8)(349,5.2)(400,5.75)(455,6.75)(519,7.75)(569,8.45)(610,8.05)(665,7.25)(720,6.15)(747,5.2)(784,4.55)(821,3.55)(866,2.75)(898,2.4)};
 \legend{HP non-match,LP non-match}
\end{axis}

\begin{scope}[x=.75pt,y=-.75pt,every node/.style={inner sep=0pt}]
 \foreach \y/\t in {207/Fz,459/Cz,728/Pz}{
  \fill[black!50] (\ifnum\y=207 53\else 43\fi,\y) circle (28);
  \node[font=\carl\bfseries\fs{16},text=white] at (\ifnum\y=207 53\else 43\fi,\y) {\t};
 }
 \foreach \x/\y/\f in {223/431/13,672/427/12,1078/425/11.7,218/677/12.8,673/677/11.3,1081/675/11.3}
  \node[font=\fs{\f},text=tickc] at (\x,\y) {[ms]};
 \foreach \x/\y in {216/944,673/953,1079/952}
  \node[font=\fs{11.4},text=black!50] at (\x,\y) {[ms]};
 \foreach \x/\y/\f in {10/313/14.5,465/318/13,873/316/13,13/566/12.5,467/572/12,868/570/12.5,14/840/10.5,464/843/12.5,873/847/12.5}
  \node[font=\fs{\f},text=tickc,rotate=90] at (\x,\y) {[µV]};
 \foreach \x/\y/\t in {108/319/P2,574/340/P2,984/331/P2,216/789/P3,667/815/LPC,1075/819/LPC}
  \node[font=\fs{10},text=black!80] at (\x,\y) {\t};
\end{scope}
\end{tikzpicture}
\end{document}
